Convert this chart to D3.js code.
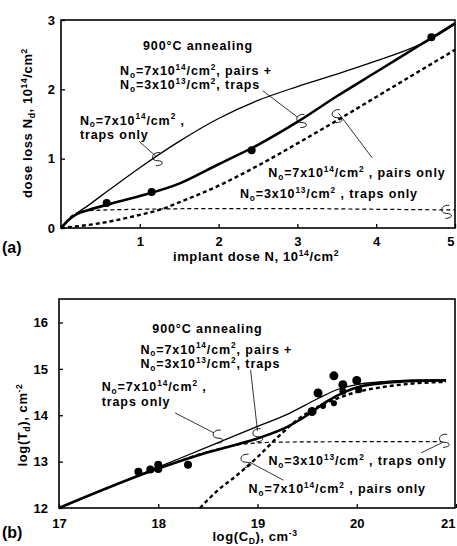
<!DOCTYPE html>
<html>
<head>
<meta charset="utf-8">
<script src="https://cdn.jsdelivr.net/npm/d3@7"></script>
<style>
  body { margin: 0; background: #fff; }
  svg text { font-family: "Liberation Sans", Arial, sans-serif; font-weight: bold; fill: #000; }
</style>
</head>
<body>
<svg id="chart" width="457" height="546"></svg>
<script>
// panel (a): dose loss vs implant dose
var doseX      = [0, 0.1, 0.2, 0.35, 0.6, 1, 1.5, 2, 2.5, 3, 3.5, 4, 4.5, 4.7, 5];
var trapsOnly7 = [0, 0.12, 0.21, 0.33, 0.54, 0.87, 1.25, 1.58, 1.84, 2.04, 2.22, 2.41, 2.62, 2.73, 2.94];
var pairsTraps = [0, 0.12, 0.2, 0.26, 0.34, 0.46, 0.64, 0.92, 1.2, 1.53, 1.9, 2.25, 2.6, 2.74, 2.95];
var pairsX     = [0, 0.5, 1, 1.3, 1.5, 2, 2.5, 3, 3.5, 4, 4.5, 5];
var pairsOnly7 = [0, 0.07, 0.19, 0.28, 0.37, 0.61, 0.9, 1.22, 1.55, 1.89, 2.23, 2.57];
var traps3X    = [0, 0.1, 0.2, 0.35, 1, 2, 3, 4, 5];
var trapsOnly3 = [0, 0.14, 0.22, 0.25, 0.27, 0.28, 0.28, 0.27, 0.26];
var measA_x    = [0.58, 1.15, 2.42, 4.7];
var measA_y    = [0.36, 0.52, 1.12, 2.75];
var ticksA_x   = [1, 2, 3, 4, 5];
var ticksA_y   = [0, 1, 2, 3];

// panel (b): log(Td) vs log(CD)
var cdX         = [17, 17.5, 18, 18.5, 19, 19.3, 19.6, 19.8, 20, 20.3, 20.6, 20.9];
var bTrapsOnly7 = [12, 12.44, 12.88, 13.32, 13.76, 14.02, 14.35, 14.55, 14.66, 14.73, 14.76, 14.77];
var bPairsX     = [17, 18, 18.5, 19, 19.3, 19.5, 19.7, 19.9, 20, 20.3, 20.6, 20.9];
var bPairsTraps = [12, 12.85, 13.2, 13.5, 13.75, 14.0, 14.3, 14.52, 14.6, 14.7, 14.74, 14.75];
var bTraps3X    = [17, 18, 18.5, 18.8, 19.2, 20, 20.85];
var bTrapsOnly3 = [12, 12.85, 13.22, 13.36, 13.42, 13.43, 13.43];
var bPOnlyX     = [18.42, 18.6, 18.8, 19, 19.2, 19.4, 19.6, 19.8, 20, 20.3, 20.6, 20.9];
var bPairsOnly7 = [12, 12.38, 12.72, 13.1, 13.52, 13.9, 14.17, 14.36, 14.5, 14.62, 14.69, 14.72];
var measB_x     = [17.8, 17.92, 18.0, 18.0, 18.3, 19.55, 19.61, 19.66, 19.77, 19.77, 19.86, 19.86, 20.0, 20.02];
var measB_y     = [12.78, 12.83, 12.93, 12.84, 12.93, 14.08, 14.48, 14.2, 14.85, 14.26, 14.66, 14.52, 14.75, 14.55];
var measB_r     = [4, 4, 4, 4, 4, 4.5, 4.5, 3, 4.5, 3, 4.5, 3.5, 4.5, 3.5];
var ticksB_x    = [17, 18, 19, 20, 21];
var ticksB_y    = [12, 13, 14, 15, 16];

var svg = d3.select('#chart');

// text with ^{sup} and _{sub}
function rich(g, str, x, y, size, anchor, spacing){
	var t = g.append('text').attr('x', x).attr('y', y)
		.attr('font-size', size).attr('letter-spacing', spacing)
		.attr('text-anchor', anchor || 'start');
	var re = /([\^_])\{([^}]*)\}|[^\^_]+/g, m, shift = 0;
	while ((m = re.exec(str)) !== null) {
		if (m[1]) {
			var s = m[1] === '^' ? -size * 0.42 : size * 0.22;
			t.append('tspan').attr('dy', s - shift).attr('font-size', size * 0.66).text(m[2]);
			shift = s;
		} else {
			t.append('tspan').attr('dy', -shift).text(m[0]);
			shift = 0;
		}
	}
	return t;
}

function curl(g, x, y){
	g.append('path')
		.attr('d', 'M' + (x + 3) + ',' + (y - 6) + ' C' + (x - 6) + ',' + (y - 7) + ' ' + (x - 7) + ',' + (y + 2) + ' ' + x + ',' + (y + 2)
			+ ' C' + (x + 7) + ',' + (y + 2) + ' ' + (x + 7) + ',' + (y + 7) + ' ' + (x - 1) + ',' + (y + 7))
		.attr('fill', 'none').attr('stroke', '#000').attr('stroke-width', 0.9);
}

function leader(g, x1, y1, x2, y2){
	g.append('line').attr('x1', x1).attr('y1', y1).attr('x2', x2).attr('y2', y2)
		.attr('stroke', '#000').attr('stroke-width', 0.8);
}

function drawPanel(o){
	var g = svg.append('g');
	var x = d3.scaleLinear().domain(o.xd).range(o.xr);
	var y = d3.scaleLinear().domain(o.yd).range(o.yr);

	g.append('rect').attr('x', o.xr[0]).attr('y', o.top)
		.attr('width', o.right - o.xr[0]).attr('height', o.yr[0] - o.top)
		.attr('fill', 'none').attr('stroke', '#000').attr('stroke-width', 1.6);

	var ax = g.append('g').attr('transform', 'translate(0,' + o.yr[0] + ')')
		.call(d3.axisBottom(x).tickValues(o.tx).tickSize(-4).tickPadding(o.padX).tickFormat(d3.format('d')));
	var ay = g.append('g').attr('transform', 'translate(' + o.xr[0] + ',0)')
		.call(d3.axisLeft(y).tickValues(o.ty).tickSize(-4).tickPadding(o.padY).tickFormat(d3.format('d')));
	[ax, ay].forEach(function(a){
		a.select('.domain').remove();
		a.selectAll('line').attr('stroke', '#000').attr('stroke-width', 1.3);
		a.selectAll('text').attr('font-size', 13).attr('font-family', null).attr('fill', '#000');
	});
	// last x label sits on the window edge
	ax.selectAll('.tick:last-of-type text').attr('text-anchor', 'end').attr('dx', -1);

	var line = d3.line().x(function(d){ return x(d[0]); }).y(function(d){ return y(d[1]); })
		.curve(d3.curveMonotoneX);
	o.curves.forEach(function(c){
		g.append('path').datum(d3.zip(c.xs, c.ys))
			.attr('d', line).attr('fill', 'none').attr('stroke', '#000')
			.attr('stroke-width', c.w).attr('stroke-dasharray', c.dash || null);
	});

	g.selectAll('circle.pt').data(d3.range(o.px.length)).join('circle')
		.attr('class', 'pt')
		.attr('cx', function(i){ return x(o.px[i]); })
		.attr('cy', function(i){ return y(o.py[i]); })
		.attr('r', function(i){ return o.pr ? o.pr[i] : 4; })
		.attr('fill', '#000');

	o.labels.forEach(function(l){
		rich(g, l[2], x(l[0]), y(l[1]), 12.5, 'start', 0.9);
	});
	o.leaders.forEach(function(l){
		leader(g, x(l[0]), y(l[1]), x(l[2]), y(l[3]));
	});
	o.curls.forEach(function(c){ curl(g, x(c[0]), y(c[1])); });

	rich(g, o.xlabel, o.xlabelPos[0], o.xlabelPos[1], 13, 'middle', 0.6);
	rich(g, o.ylabel, 0, 0, 13, 'middle', 0.6)
		.attr('transform', 'translate(' + o.ylabelPos[0] + ',' + o.ylabelPos[1] + ') rotate(-90)');
	g.append('text').attr('x', 2).attr('y', o.tagY).attr('font-size', 16)
		.attr('font-weight', 'normal').text(o.tag);
}

drawPanel({
	xd: [0, 5], xr: [61, 455], right: 455,
	yd: [0, 3], yr: [228, 20], top: 20,
	tx: ticksA_x, ty: ticksA_y, padX: 9, padY: 6,
	curves: [
		{ xs: doseX, ys: trapsOnly7, w: 1.3 },
		{ xs: doseX, ys: pairsTraps, w: 2.6 },
		{ xs: pairsX, ys: pairsOnly7, w: 2.4, dash: '4,3' },
		{ xs: traps3X, ys: trapsOnly3, w: 1.2, dash: '4,3' }
	],
	px: measA_x, py: measA_y,
	labels: [
		[1.04, 2.567, '900°C annealing'],
		[0.75, 2.21, 'N_{o}=7x10^{14}/cm^{2}, pairs +'],
		[0.75, 2.0, 'N_{o}=3x10^{13}/cm^{2}, traps'],
		[0.24, 1.49, 'N_{o}=7x10^{14}/cm^{2} ,'],
		[0.24, 1.284, 'traps only'],
		[2.63, 0.736, 'N_{o}=7x10^{14}/cm^{2} , pairs only'],
		[2.27, 0.433, 'N_{o}=3x10^{13}/cm^{2} , traps only']
	],
	leaders: [
		[0.99, 1.25, 1.2, 1.04],
		[2.56, 1.98, 3.0, 1.6],
		[3.95, 1.01, 3.52, 1.66]
	],
	curls: [[1.22, 1.0], [3.05, 1.55], [3.5, 1.62], [4.89, 0.24]],
	xlabel: 'implant dose N,  10^{14}/cm^{2}', xlabelPos: [256, 261],
	ylabel: 'dose loss N_{d},  10^{14}/cm^{2}', ylabelPos: [32, 123],
	tag: '(a)', tagY: 253
});

drawPanel({
	xd: [17, 21], xr: [59, 456], right: 455,
	yd: [12, 16], yr: [508, 322.5], top: 299,
	tx: ticksB_x, ty: ticksB_y, padX: 11, padY: 11,
	curves: [
		{ xs: cdX, ys: bTrapsOnly7, w: 1.3 },
		{ xs: bPairsX, ys: bPairsTraps, w: 2.6 },
		{ xs: bPOnlyX, ys: bPairsOnly7, w: 2.4, dash: '4,3' },
		{ xs: bTraps3X, ys: bTrapsOnly3, w: 1.2, dash: '4,3' }
	],
	px: measB_x, py: measB_y, pr: measB_r,
	labels: [
		[17.94, 15.77, '900°C annealing'],
		[17.82, 15.33, 'N_{o}=7x10^{14}/cm^{2}, pairs +'],
		[17.82, 15.02, 'N_{o}=3x10^{13}/cm^{2}, traps'],
		[17.43, 14.52, 'N_{o}=7x10^{14}/cm^{2} ,'],
		[17.43, 14.2, 'traps only'],
		[19.11, 12.93, 'N_{o}=3x10^{13}/cm^{2} , traps only'],
		[18.91, 12.32, 'N_{o}=7x10^{14}/cm^{2} , pairs only']
	],
	leaders: [
		[18.17, 14.05, 18.56, 13.62],
		[18.93, 14.98, 19.0, 13.66],
		[20.65, 13.19, 20.87, 13.42],
		[19.26, 12.6, 18.92, 12.99]
	],
	curls: [[18.6, 13.55], [19.0, 13.58], [20.88, 13.46], [18.88, 13.03]],
	xlabel: 'log(C_{D}),  cm^{-3}', xlabelPos: [255, 541],
	ylabel: 'log(T_{d}),  cm^{-2}', ylabelPos: [27, 425],
	tag: '(b)', tagY: 538
});
</script>
</body>
</html>
